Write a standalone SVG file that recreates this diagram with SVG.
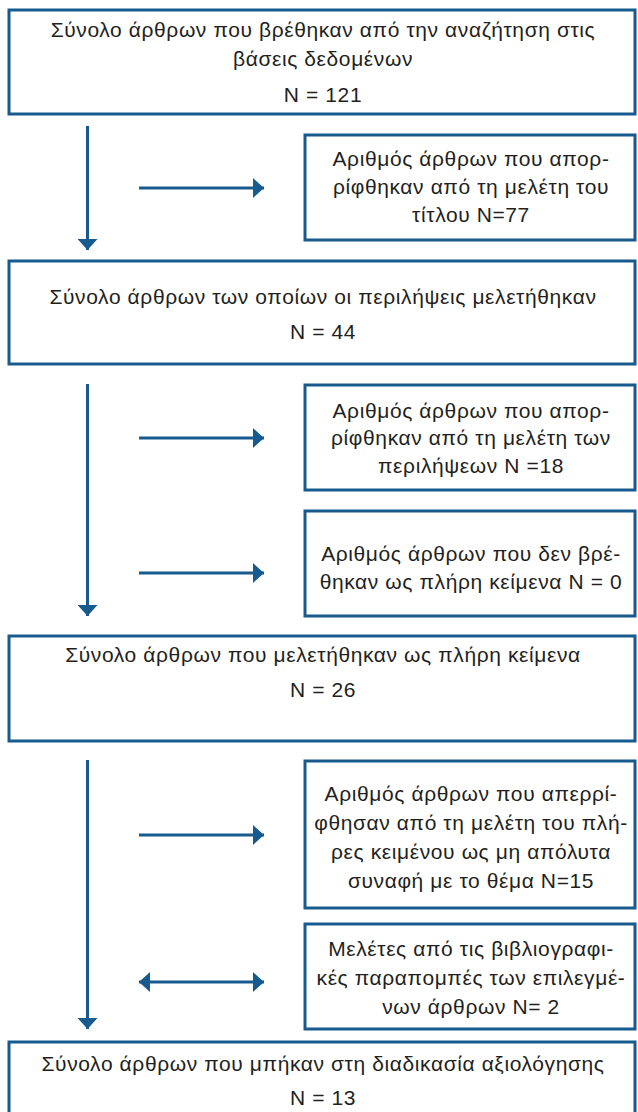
<svg xmlns="http://www.w3.org/2000/svg" width="638" height="1112" viewBox="0 0 638 1112">
<style>
.box{fill:#fff;stroke:#175a8d;stroke-width:3}
.t{font-family:"Liberation Sans",Arial,sans-serif;font-size:21px;letter-spacing:0.6px;fill:#231f20;text-anchor:middle}
.c{stroke:#175a8d;stroke-width:3;fill:none}
</style>
<defs>
<marker id="ah" markerUnits="userSpaceOnUse" markerWidth="12" markerHeight="20" refX="11" refY="10" orient="auto-start-reverse" viewBox="0 0 12 20">
<path d="M0,0 L11,10 L0,20 z" fill="#175a8d"/>
</marker>
</defs>
<rect width="638" height="1112" fill="#fff"/>
<g id="connectors">
<line class="c" x1="87.5" y1="126" x2="87.5" y2="250" marker-end="url(#ah)"/>
<line class="c" x1="139" y1="188" x2="264" y2="188" marker-end="url(#ah)"/>
<line class="c" x1="87.5" y1="384" x2="87.5" y2="616" marker-end="url(#ah)"/>
<line class="c" x1="139" y1="438" x2="264" y2="438" marker-end="url(#ah)"/>
<line class="c" x1="139" y1="573" x2="264" y2="573" marker-end="url(#ah)"/>
<line class="c" x1="87.5" y1="760" x2="87.5" y2="1029" marker-end="url(#ah)"/>
<line class="c" x1="139" y1="835" x2="264" y2="835" marker-end="url(#ah)"/>
<line class="c" x1="139" y1="982" x2="264" y2="982" marker-start="url(#ah)" marker-end="url(#ah)"/>
</g>
<g id="n1">
<rect class="box" x="9" y="10" width="626" height="104"/>
<text class="t" x="323" y="37">Σύνολο άρθρων που βρέθηκαν από την αναζήτηση στις</text>
<text class="t" x="323" y="66">βάσεις δεδομένων</text>
<text class="t" x="323" y="102">N = 121</text>
</g>
<g id="n2">
<rect class="box" x="305" y="135" width="330" height="105"/>
<text class="t" x="471" y="166">Αριθμός άρθρων που απορ-</text>
<text class="t" x="471" y="194">ρίφθηκαν από τη μελέτη του</text>
<text class="t" x="471" y="222">τίτλου N=77</text>
</g>
<g id="n3">
<rect class="box" x="9" y="261" width="626" height="103"/>
<text class="t" x="323" y="304">Σύνολο άρθρων των οποίων οι περιλήψεις μελετήθηκαν</text>
<text class="t" x="323" y="339">N = 44</text>
</g>
<g id="n4">
<rect class="box" x="305" y="385" width="330" height="105"/>
<text class="t" x="471" y="418">Αριθμός άρθρων που απορ-</text>
<text class="t" x="471" y="445">ρίφθηκαν από τη μελέτη των</text>
<text class="t" x="471" y="473">περιλήψεων N =18</text>
</g>
<g id="n5">
<rect class="box" x="305" y="511" width="330" height="105"/>
<text class="t" x="471" y="561">Αριθμός άρθρων που δεν βρέ-</text>
<text class="t" x="471" y="589">θηκαν ως πλήρη κείμενα N = 0</text>
</g>
<g id="n6">
<rect class="box" x="9" y="636" width="626" height="105"/>
<text class="t" x="323" y="662">Σύνολο άρθρων που μελετήθηκαν  ως πλήρη κείμενα</text>
<text class="t" x="323" y="697">N = 26</text>
</g>
<g id="n7">
<rect class="box" x="305" y="761" width="330" height="147"/>
<text class="t" x="471" y="801">Αριθμός άρθρων που απερρί-</text>
<text class="t" x="471" y="830">φθησαν από τη μελέτη του πλή-</text>
<text class="t" x="471" y="859">ρες κειμένου ως μη απόλυτα</text>
<text class="t" x="471" y="888">συναφή με το θέμα N=15</text>
</g>
<g id="n8">
<rect class="box" x="305" y="924" width="330" height="105"/>
<text class="t" x="471" y="956">Μελέτες από τις βιβλιογραφι-</text>
<text class="t" x="471" y="985">κές παραπομπές των επιλεγμέ-</text>
<text class="t" x="471" y="1014">νων άρθρων N= 2</text>
</g>
<g id="n9">
<rect class="box" x="9" y="1042" width="626" height="80"/>
<text class="t" x="323" y="1071">Σύνολο άρθρων που μπήκαν στη διαδικασία αξιολόγησης</text>
<text class="t" x="323" y="1105">N = 13</text>
</g>
</svg>
